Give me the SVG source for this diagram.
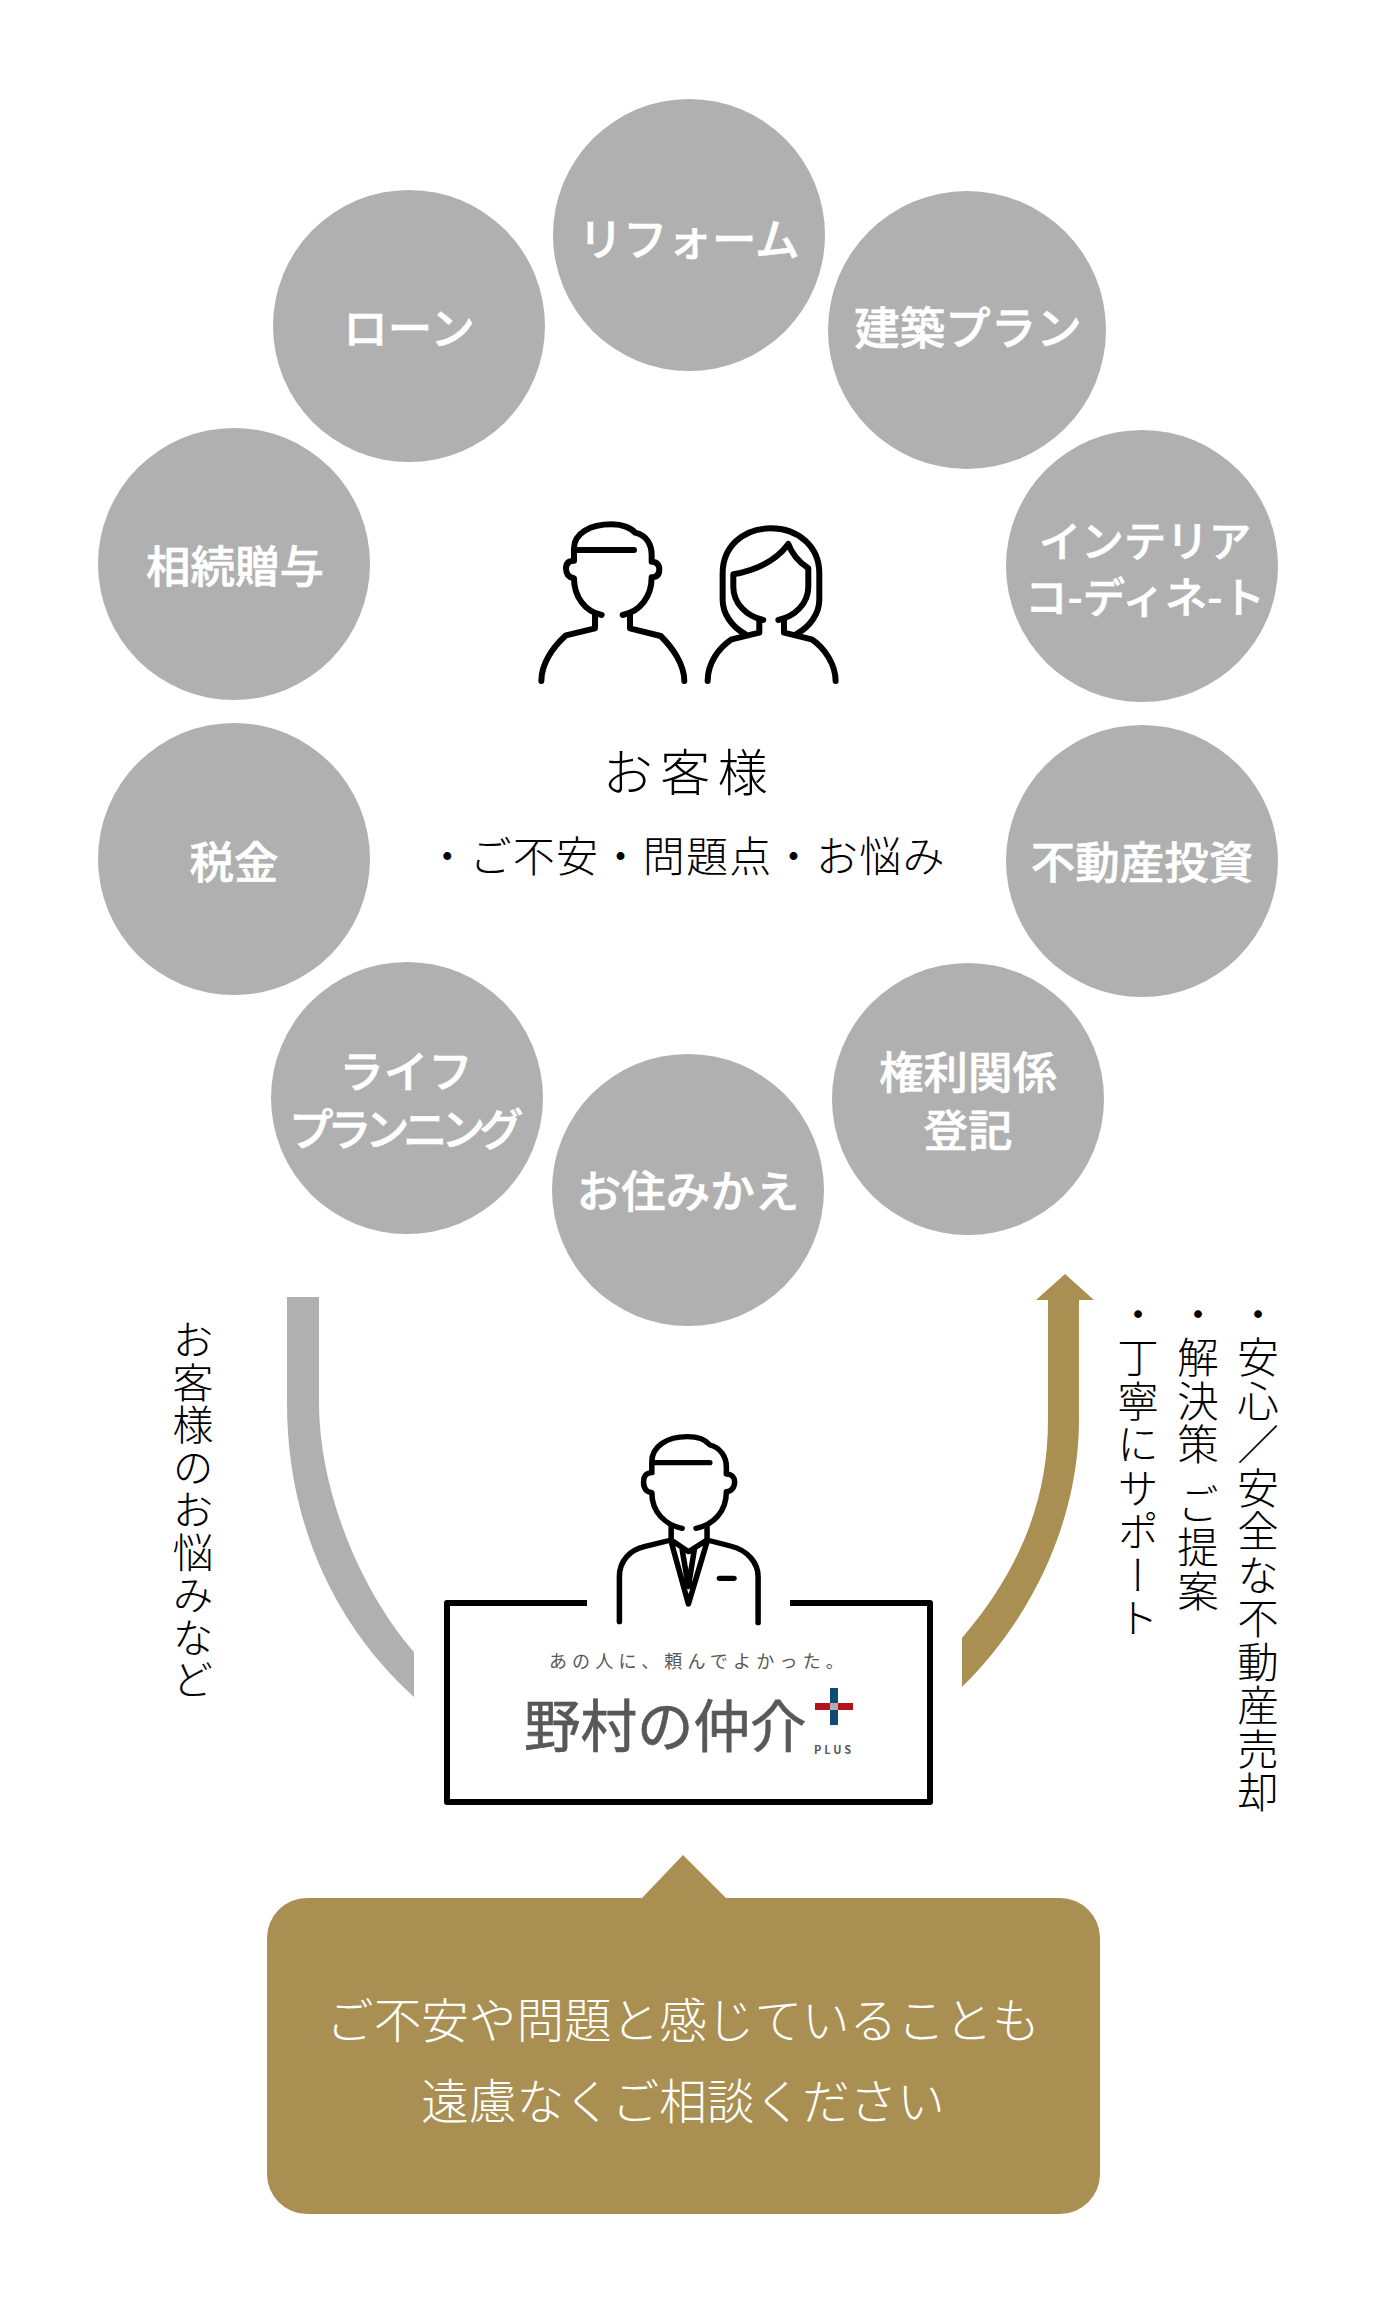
<svg xmlns="http://www.w3.org/2000/svg" width="1380" height="2314" viewBox="0 0 1380 2314">
<style>
.c{fill:#b0b0b0}
.ct{font-family:"Noto Sans CJK JP","Noto Sans",sans-serif;font-size:44.5px;font-weight:500;fill:#fff;stroke:#fff;stroke-width:.6px;text-anchor:middle}
.l{fill:none;stroke:#000;stroke-linecap:round;stroke-linejoin:round}
.t{font-family:"Noto Sans CJK JP","Noto Sans",sans-serif;font-weight:300;fill:#000}
.v{writing-mode:vertical-rl;font-size:41.5px;letter-spacing:2px}
.w{font-family:"Noto Sans CJK JP","Noto Sans",sans-serif;font-weight:300;fill:#fff;font-size:47.6px;text-anchor:middle}
.g{font-family:"Noto Sans CJK JP","Noto Sans",sans-serif;fill:#58585a}
</style>
<rect width="1380" height="2314" fill="#fff"/>
<g id="n-reform"><circle class="c" cx="689" cy="235" r="136"/><text class="ct" x="689" y="256">リフォーム</text></g>
<g id="n-loan"><circle class="c" cx="409" cy="326" r="136"/><text class="ct" x="409" y="345">ローン</text></g>
<g id="n-plan"><circle class="c" cx="967" cy="330" r="139"/><text class="ct" x="968" y="345" style="font-size:45.5px">建築プラン</text></g>
<g id="n-interior"><circle class="c" cx="1142" cy="566" r="136"/><text class="ct" x="1145" y="557" style="font-size:42.5px">インテリア</text><text class="ct" x="1145" y="613" style="font-size:42.5px">コ-ディネ-ト</text></g>
<g id="n-souzoku"><circle class="c" cx="234" cy="564" r="136"/><text class="ct" x="235" y="583">相続贈与</text></g>
<g id="n-zei"><circle class="c" cx="234" cy="859" r="136"/><text class="ct" x="234" y="879">税金</text></g>
<g id="n-toshi"><circle class="c" cx="1142" cy="861" r="136"/><text class="ct" x="1142" y="879">不動産投資</text></g>
<g id="n-life"><circle class="c" cx="407" cy="1098" r="136"/><text class="ct" x="406" y="1088">ライフ</text><text class="ct" x="403" y="1146" letter-spacing="-6.5">プランニング</text></g>
<g id="n-kenri"><circle class="c" cx="968" cy="1099" r="136"/><text class="ct" x="968" y="1089">権利関係</text><text class="ct" x="968" y="1147">登記</text></g>
<g id="n-sumikae"><circle class="c" cx="688" cy="1190" r="136"/><text class="ct" x="688" y="1208">お住みかえ</text></g>

<g id="n-customer">
<g transform="translate(500 480) scale(.3333)" class="l" stroke-width="18">
<path d="M305 405C255 395 222 350 222 295C200 292 198 275 198 265C198 250 205 242 222 242L222 205C222 160 270 133 335 133C370 133 395 145 405 158C440 165 455 195 455 225L455 245C475 245 478 260 478 268C478 285 470 292 455 292C455 350 420 395 368 405"/>
<path d="M232 210L402 210"/>
<path d="M124 603C124 550 160 500 198 466L285 445L285 405M390 405L390 445L482 468C520 505 553 555 553 603"/>
<path d="M735 462C695 440 668 400 668 360L668 280C668 200 730 145 812 145C895 145 958 200 958 280L958 360C958 400 930 440 890 462"/>
<path d="M790 420C740 410 700 370 700 320L700 283C770 270 830 240 865 192C875 220 895 245 925 265L925 320C925 370 885 410 835 420"/>
<path d="M623 603C623 550 655 505 695 478L778 458L778 420M852 420L852 458L935 478C975 505 1007 555 1007 603"/>
</g>
<text class="t" x="689" y="791" font-size="50" letter-spacing="7.5" text-anchor="middle">お客様</text>
<text class="t" x="686" y="872" font-size="42" letter-spacing="1.3" text-anchor="middle">・ご不安・問題点・お悩み</text>
</g>

<g id="connectors">
<path d="M287 1297H319V1403C319 1490 360 1590 414 1652V1697C340 1630 287 1530 287 1403Z" fill="#b0b0b0"/>
<path d="M1065 1274L1094 1300H1079V1420C1079 1510 1040 1610 962 1687V1638C1020 1570 1048 1500 1048 1420V1300H1036Z" fill="#a98f52"/>
</g>
<g id="label-left"><text class="t v" x="193" y="1319" style="font-size:41px;letter-spacing:1.5px">お客様のお悩みなど</text></g>
<g id="label-right">
<text class="t v" x="1258" y="1293">・安心／安全な不動産売却</text>
<text class="t v" x="1198" y="1293" word-spacing="5">・解決策 ご提案</text>
<text class="t v" x="1138" y="1293">・丁寧にサポート</text>
</g>

<g id="n-agent">
<g transform="translate(420 1400) scale(.345 .3333)" class="l" stroke-width="16">
<path d="M760 385C710 375 672 335 672 278C650 275 648 255 648 245C648 230 655 218 672 218L672 185C672 140 715 110 775 110C810 110 830 122 840 135C870 142 888 170 888 200L888 222C905 222 912 235 912 245C912 265 900 275 888 275C888 335 850 375 800 385"/>
<path d="M680 188L840 188"/>
<path d="M578 665L578 530C578 480 610 450 650 440L728 420L728 380M832 380L832 420L900 438C950 450 980 490 980 530L980 668"/>
<path d="M728 420L778 455L832 420M728 425L778 612L832 425M760 450L778 560L795 450"/>
<path d="M868 535L910 535"/>
</g>
<path d="M587 1603H447V1802H930V1603H790" fill="none" stroke="#000" stroke-width="6" stroke-linejoin="round"/>
<text class="g" x="699" y="1668" font-size="18" letter-spacing="5.2" text-anchor="middle">あの人に、頼んでよかった。</text>
<text class="g" x="524" y="1747" font-size="56.5" font-weight="400" stroke="#58585a" stroke-width=".7">野村の仲介</text>
<rect x="830" y="1688" width="8" height="37" fill="#0f4c75"/>
<rect x="815" y="1703" width="38" height="7" fill="#b5121b"/>
<rect x="830" y="1703" width="8" height="7" fill="#afafaf"/>
<text class="g" x="814" y="1754" font-size="11" font-weight="700" letter-spacing="3">PLUS</text>
</g>

<g id="n-message">
<path d="M683 1855L726 1898H1060A40 40 0 0 1 1100 1938V2174A40 40 0 0 1 1060 2214H307A40 40 0 0 1 267 2174V1938A40 40 0 0 1 307 1898H642Z" fill="#a98f52"/>
<text class="w" x="683" y="2038">ご不安や問題と感じていることも</text>
<text class="w" x="683" y="2119">遠慮なくご相談ください</text>
</g>
</svg>
